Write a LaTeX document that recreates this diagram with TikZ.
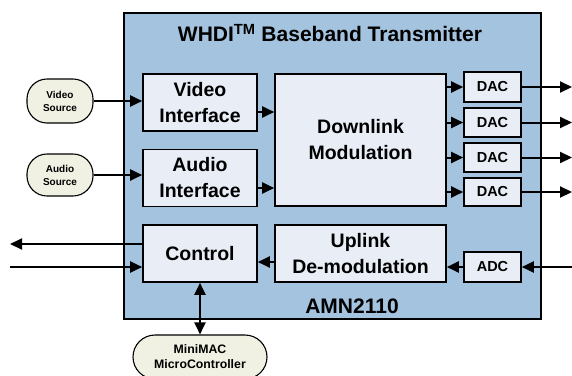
\documentclass[tikz,border=0pt]{standalone}
\usepackage{fontspec}
\setmainfont{Liberation Sans}
\usepackage{tikz}
\usetikzlibrary{arrows.meta, calc}

\definecolor{chipBlue}{RGB}{163,195,223}
\definecolor{blockFill}{RGB}{233,238,246}
\definecolor{srcFill}{RGB}{241,241,227}

\tikzset{
  block/.style={draw, line width=1.6pt, fill=blockFill, align=center, inner sep=0pt,
    font=\bfseries\fontsize{19.5}{26}\selectfont},
  conv/.style={draw, line width=1.6pt, fill=blockFill, inner sep=0pt,
    minimum width=57pt, font=\bfseries\fontsize{14.5}{15}\selectfont},
  source/.style={draw, line width=1.1pt, fill=srcFill, align=center, inner sep=0pt,
    rounded corners=20pt, font=\bfseries\fontsize{10}{13}\selectfont},
  arr/.style={line width=2pt, -{Triangle[length=12pt,width=11pt]}},
}

\begin{document}
\begin{tikzpicture}[x=1pt, y=-1pt]
\useasboundingbox (0,0) rectangle (572,375);

 %% chip outline
\draw[line width=1.8pt, fill=chipBlue] (124,13) rectangle (541,319);
\node[font=\bfseries\fontsize{21}{22}\selectfont] (title) at (330,33) {WHDI\textsuperscript{TM} Baseband Transmitter};
\node[font=\bfseries\fontsize{21}{22}\selectfont] (part) at (352,306) {AMN2110};

 %% blocks inside the chip
\node[block, minimum width=114pt, minimum height=57pt] (vidif) at (200,102.5) {Video\\Interface};
\node[block, minimum width=114pt, minimum height=57pt] (audif) at (200,178) {Audio\\Interface};
\node[block, minimum width=171pt, minimum height=132pt] (downmod) at (360.5,140) {Downlink\\Modulation};
\node[block, minimum width=114pt, minimum height=57pt] (ctrl) at (200,253.5) {Control};
\node[block, minimum width=171pt, minimum height=57pt] (updemod) at (360.5,253.5) {Uplink\\De-modulation};

 %% converters
\node[conv, minimum height=30pt] (dac1) at (492.5,87) {DAC};
\node[conv, minimum height=29pt] (dac2) at (492.5,122.5) {DAC};
\node[conv, minimum height=29pt] (dac3) at (492.5,157.5) {DAC};
\node[conv, minimum height=28pt] (dac4) at (492.5,192) {DAC};
\node[conv, minimum height=30pt] (adc) at (492.5,267) {ADC};

 %% outside the chip
\node[source, minimum width=66pt, minimum height=44pt] (vidsrc) at (60,101) {Video\\Source};
\node[source, minimum width=66pt, minimum height=42pt] (audsrc) at (60,175) {Audio\\Source};
\node[source, rounded corners=22pt, minimum width=134pt, minimum height=44pt,
  font=\bfseries\fontsize{12.3}{15}\selectfont] (micro) at (200,357) {MiniMAC\\MicroController};

\coordinate (dacOut) at (572,0);
\coordinate (adcIn) at (572,267);
\coordinate (ctrlOut) at (10,244);
\coordinate (ctrlIn) at (10,267);

 %% sources to interfaces
\draw[arr] (vidsrc) -- (vidsrc -| vidif.west);
\draw[arr] (audsrc) -- (audsrc -| audif.west);
\draw[arr] ([yshift=-9.5pt]vidif.east) -- ([yshift=-9.5pt]vidif.east -| downmod.west);
\draw[arr] ([yshift=-10pt]audif.east) -- ([yshift=-10pt]audif.east -| downmod.west);

 %% DACs
\draw[arr] (dac1.west -| downmod.east) -- (dac1.west);
\draw[arr] (dac2.west -| downmod.east) -- (dac2.west);
\draw[arr] (dac3.west -| downmod.east) -- (dac3.west);
\draw[arr] (dac4.west -| downmod.east) -- (dac4.west);
\draw[arr] (dac1.east) -- (dac1.east -| dacOut);
\draw[arr] (dac2.east) -- (dac2.east -| dacOut);
\draw[arr] (dac3.east) -- (dac3.east -| dacOut);
\draw[arr] (dac4.east) -- (dac4.east -| dacOut);

 %% uplink path
\draw[arr] (adcIn) -- (adc.east);
\draw[arr] (adc.west) -- (adc.west -| updemod.east);
\draw[arr] ([yshift=-8.5pt]updemod.west) -- ([yshift=-8.5pt]updemod.west -| ctrl.east);

 %% control
\draw[arr] (ctrl.west |- ctrlOut) -- (ctrlOut);
\draw[arr] (ctrlIn) -- (ctrl.west |- ctrlIn);
\draw[arr, {Triangle[length=12pt,width=11pt]}-{Triangle[length=12pt,width=11pt]}] (ctrl.south) -- (micro.north);

\end{tikzpicture}
\end{document}
